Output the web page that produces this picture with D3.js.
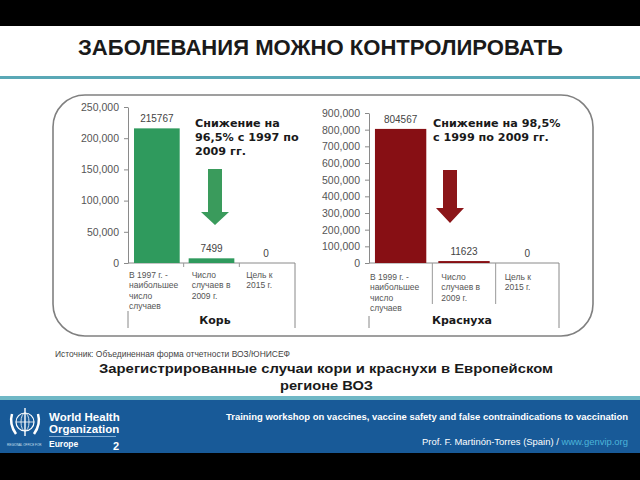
<!DOCTYPE html>
<html><head><meta charset="utf-8">
<script src="https://cdn.jsdelivr.net/npm/d3@7"></script>
<style>body{margin:0;background:#000}svg{display:block}</style>
</head><body><svg id="c" width="640" height="480"></svg>
<script>
// ---- data ----
const measlesCategories = [["В 1997 г. -","наибольшее","число","случаев"],["Число","случаев в","2009 г."],["Цель к","2015 г."]];
const measlesValues = [215767, 7499, 0];
const measlesTicks = [0, 50000, 100000, 150000, 200000, 250000];
const rubellaCategories = [["В 1999 г. -","наибольшее","число","случаев"],["Число","случаев в","2009 г."],["Цель к","2015 г."]];
const rubellaValues = [804567, 11623, 0];
const rubellaTicks = [0, 100000, 200000, 300000, 400000, 500000, 600000, 700000, 800000, 900000];
const diseaseNames = ["Корь", "Краснуха"];
const reductionNotes = [["Снижение на","96,5% с 1997 по","2009 гг."],["Снижение на 98,5%","с 1999 по 2009 гг."]];
const slideTitle = "ЗАБОЛЕВАНИЯ МОЖНО КОНТРОЛИРОВАТЬ";
const sourceNote = "Источник: Объединенная форма отчетности ВОЗ/ЮНИСЕФ";
const captionLines = ["Зарегистрированные случаи кори и краснухи в Европейском", "регионе ВОЗ"];
const footerTitle = "Training workshop on vaccines, vaccine safety and false contraindications to vaccination";
const footerAuthor = "Prof. F. Martinón-Torres (Spain) / ";
const footerLink = "www.genvip.org";
const pageNumber = "2";

const svg = d3.select("#c");
// backgrounds
svg.append("rect").attr("x",0).attr("y",0).attr("width",640).attr("height",480).attr("fill","#000");
svg.append("rect").attr("x",0).attr("y",26).attr("width",640).attr("height",427).attr("fill","#fff");
// title
svg.append("text").attr("x",78).attr("y",55).attr("textLength",485).attr("lengthAdjust","spacingAndGlyphs")
  .attr("font-family","Liberation Sans, Arial, sans-serif").attr("font-weight","bold").attr("font-size",22)
  .attr("fill","#1a1a1a").text(slideTitle);
svg.append("rect").attr("x",0).attr("y",76).attr("width",640).attr("height",3).attr("fill","#5aa8b6");
// rounded box
svg.append("rect").attr("x",53).attr("y",95).attr("width",540).attr("height",241).attr("rx",32).attr("ry",32)
  .attr("fill","none").attr("stroke","#808080").attr("stroke-width",1.6);

function drawChart(cfg){
  const g = svg.append("g");
  const y = d3.scaleLinear().domain([0, cfg.max]).range([263, cfg.top]);
  const x = d3.scaleBand().domain(d3.range(cfg.values.length)).range(cfg.xr).paddingInner(cfg.pi).paddingOuter(cfg.po);
  const ax = g.append("g").attr("transform",`translate(${cfg.xr[0]},0)`)
    .call(d3.axisLeft(y).tickValues(cfg.ticks).tickFormat(d3.format(",")).tickSize(4).tickSizeOuter(0).tickPadding(5));
  ax.select(".domain").attr("stroke","#8a8a8a");
  ax.selectAll(".tick line").attr("stroke","#8a8a8a");
  ax.selectAll(".tick text").attr("font-family","Liberation Sans, Arial, sans-serif").attr("font-size",10.5).attr("fill","#555");
  // x axis line
  g.append("line").attr("x1",cfg.xr[0]).attr("x2",cfg.xr[1]).attr("y1",y(0)).attr("y2",y(0)).attr("stroke","#8a8a8a");
  // bars
  g.selectAll("rect.bar").data(cfg.values).join("rect").attr("class","bar")
    .attr("x",(d,i)=>x(i)).attr("width",x.bandwidth())
    .attr("y",d=>y(d)).attr("height",d=>y(0)-y(d)).attr("fill",cfg.color);
  // value labels
  g.selectAll("text.val").data(cfg.values).join("text").attr("class","val")
    .attr("x",(d,i)=>x(i)+x.bandwidth()/2).attr("y",d=>y(d)-6).attr("text-anchor","middle")
    .attr("font-family","Liberation Sans, Arial, sans-serif").attr("font-size",10).attr("fill","#444")
    .text(d=>String(d));
  // category boundaries
  const bounds = d3.range(cfg.values.length+1).map(i => cfg.xr[0] + i*(cfg.xr[1]-cfg.xr[0])/cfg.values.length);
  bounds.forEach((b,i)=>{
    if(i===0){ g.append("line").attr("x1",b).attr("x2",b).attr("y1",cfg.leftLine[0]).attr("y2",cfg.leftLine[1]).attr("stroke","#888"); }
    else if(i===bounds.length-1){ g.append("line").attr("x1",b).attr("x2",b).attr("y1",y(0)).attr("y2",328).attr("stroke","#888"); }
    else { g.append("line").attr("x1",b).attr("x2",b).attr("y1",y(0)).attr("y2",y(0)+cfg.midLen).attr("stroke","#999"); }
  });
  // category labels
  cfg.cats.forEach((lines,i)=>{
    const t = g.append("text").attr("font-family","Liberation Sans, Arial, sans-serif").attr("font-size",8.5).attr("fill","#555");
    lines.forEach((ln,j)=>{
      t.append("tspan").attr("x", x(i) + (i===0 ? -5 : 3)).attr("y", cfg.labelY + j*10.3).text(ln);
    });
  });
  // disease name
  g.append("text").attr("x",cfg.nameX).attr("y",324).attr("text-anchor","middle")
    .attr("font-family","DejaVu Sans, sans-serif").attr("font-weight","bold").attr("font-size",11).attr("fill","#1a1a1a").text(cfg.name);
  // note
  const nt = g.append("text").attr("font-family","DejaVu Sans, sans-serif").attr("font-weight","bold").attr("font-size",11.2).attr("fill","#1a1a1a");
  cfg.note.forEach((ln,j)=> nt.append("tspan").attr("x",cfg.noteX).attr("y",cfg.noteY + j*14).text(ln));
  // arrow
  const a = cfg.arrow; // [cx, top, shaftBottom, tip, shaftHalf, headHalf]
  g.append("path").attr("fill",cfg.arrowColor)
    .attr("d",`M${a[0]-a[4]},${a[1]} L${a[0]+a[4]},${a[1]} L${a[0]+a[4]},${a[2]} L${a[0]+a[5]},${a[2]} L${a[0]},${a[3]} L${a[0]-a[5]},${a[2]} L${a[0]-a[4]},${a[2]} Z`);
}

drawChart({values:measlesValues, cats:measlesCategories, ticks:measlesTicks, max:250000, top:107,
  xr:[128,295], pi:0.164, po:0.11, color:"#2f9a5d", leftLine:[311,328], midLen:4, labelY:278,
  name:diseaseNames[0], nameX:215, note:reductionNotes[0], noteX:195, noteY:127,
  arrow:[215,169,212,225,7,14], arrowColor:"#3a9b5c"});
drawChart({values:rubellaValues, cats:rubellaCategories, ticks:rubellaTicks, max:900000, top:113,
  xr:[369,559], pi:0.19, po:0.094, color:"#870f14", leftLine:[316,328], midLen:41, labelY:280,
  name:diseaseNames[1], nameX:462, note:reductionNotes[1], noteX:433, noteY:127,
  arrow:[450,170,208,223,7,14], arrowColor:"#8b1518"});

// source & caption
svg.append("text").attr("x",55).attr("y",357).attr("textLength",235).attr("lengthAdjust","spacingAndGlyphs")
  .attr("font-family","Liberation Sans, Arial, sans-serif").attr("font-size",8.5).attr("fill","#444").text(sourceNote);
svg.append("text").attr("x",99).attr("y",373).attr("textLength",454).attr("lengthAdjust","spacingAndGlyphs")
  .attr("font-family","Liberation Sans, Arial, sans-serif").attr("font-weight","bold").attr("font-size",13.5).attr("fill","#1a1a1a").text(captionLines[0]);
svg.append("text").attr("x",280).attr("y",390).attr("textLength",93).attr("lengthAdjust","spacingAndGlyphs")
  .attr("font-family","Liberation Sans, Arial, sans-serif").attr("font-weight","bold").attr("font-size",13.5).attr("fill","#1a1a1a").text(captionLines[1]);

// footer
svg.append("rect").attr("x",0).attr("y",396).attr("width",640).attr("height",4).attr("fill","#6fb8c6");
svg.append("rect").attr("x",0).attr("y",400).attr("width",640).attr("height",53).attr("fill","#185a98");
svg.append("text").attr("x",628).attr("y",420).attr("text-anchor","end").attr("textLength",402).attr("lengthAdjust","spacingAndGlyphs")
  .attr("font-family","Liberation Sans, Arial, sans-serif").attr("font-weight","bold").attr("font-size",9.5).attr("fill","#fff").text(footerTitle);
const ft = svg.append("text").attr("x",628).attr("y",445).attr("text-anchor","end").attr("textLength",206).attr("lengthAdjust","spacingAndGlyphs")
  .attr("font-family","Liberation Sans, Arial, sans-serif").attr("font-size",9.5).attr("fill","#fff");
ft.append("tspan").text(footerAuthor);
ft.append("tspan").attr("fill","#4cb4d8").text(footerLink);
// WHO logo
const logo = svg.append("g").attr("stroke","#fff").attr("fill","none");
logo.append("circle").attr("cx",25).attr("cy",422).attr("r",9).attr("stroke-width",1.2);
logo.append("ellipse").attr("cx",25).attr("cy",422).attr("rx",4).attr("ry",9).attr("stroke-width",0.8);
logo.append("line").attr("x1",16).attr("x2",34).attr("y1",422).attr("y2",422).attr("stroke-width",0.8);
logo.append("line").attr("x1",25).attr("x2",25).attr("y1",408).attr("y2",436).attr("stroke-width",1.4);
logo.append("path").attr("d","M12,414 Q9,424 16,434 M38,414 Q41,424 34,434").attr("stroke-width",2.5);
svg.append("text").attr("x",49).attr("y",421).attr("font-family","Liberation Sans, Arial, sans-serif").attr("font-weight","bold").attr("font-size",11.5).attr("fill","#fff").text("World Health");
svg.append("text").attr("x",49).attr("y",433).attr("font-family","Liberation Sans, Arial, sans-serif").attr("font-weight","bold").attr("font-size",11.5).attr("fill","#fff").text("Organization");
svg.append("line").attr("x1",49).attr("x2",116).attr("y1",436.5).attr("y2",436.5).attr("stroke","#9cc3e6").attr("stroke-width",0.8);
svg.append("text").attr("x",49).attr("y",447).attr("font-family","Liberation Sans, Arial, sans-serif").attr("font-weight","bold").attr("font-size",8.5).attr("fill","#fff").text("Europe");
svg.append("text").attr("x",7).attr("y",446).attr("font-family","Liberation Sans, Arial, sans-serif").attr("font-size",3).attr("fill","#cfe0f0").text("REGIONAL OFFICE FOR");
svg.append("text").attr("x",113).attr("y",450).attr("font-family","Liberation Sans, Arial, sans-serif").attr("font-weight","bold").attr("font-size",11).attr("fill","#fff").text(pageNumber);
</script></body></html>
